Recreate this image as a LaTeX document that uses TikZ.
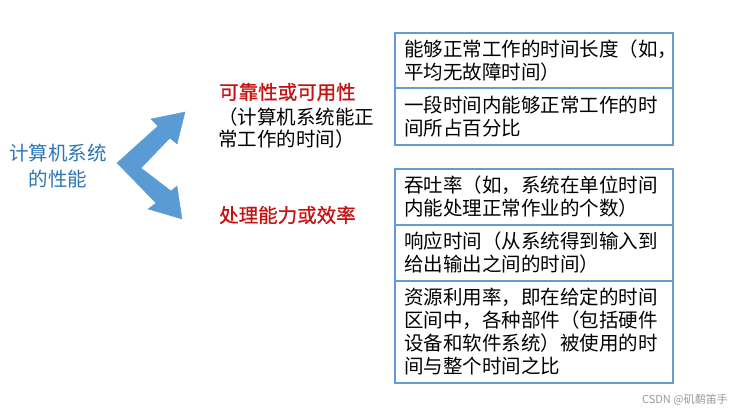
\documentclass[tikz,border=0pt]{standalone}
\usepackage{fontspec}
\setmainfont{Noto Sans CJK SC}
\newfontfamily\redfont[FakeBold=0.8]{Noto Sans CJK SC}
\usepackage{xcolor}
\usepackage{tikz}
\usetikzlibrary{positioning}

\definecolor{perfblue}{RGB}{46,117,182}
\definecolor{arrowblue}{RGB}{91,155,213}
\definecolor{labelred}{RGB}{200,16,16}
\definecolor{boxblue}{RGB}{100,155,210}

\begin{document}
\begin{tikzpicture}[x=1pt, y=-1pt, node distance=0pt,
    cell/.style={rectangle, draw=boxblue, line width=1.1pt, outer sep=0pt, inner xsep=9pt, inner ysep=0pt, text width=260pt, align=left, font=\fontsize{19.5}{23}\selectfont},
    title/.style={text=labelred, inner sep=0pt, anchor=west, font=\fontsize{19.5}{23}\redfont},
    desc/.style={text=black, inner sep=0pt, anchor=west, align=left, font=\fontsize{19.5}{22}\selectfont}
]
    \useasboundingbox (0,0) rectangle (738,414);

    % Left label
    \node [text=perfblue, inner sep=0pt, align=center, font=\fontsize{19.5}{26}\selectfont] (perf) at (58,166) {计算机系统\\的性能};

    % Bent double arrow
    \fill [arrowblue, draw=arrowblue, line join=miter] (117,163) -- (158,126) -- (151,119) -- (185,112) -- (177,144) -- (170,138) -- (141,168)
        -- (171,191) -- (177,186) -- (182,219) -- (148,209) -- (156,203) -- cycle;

    % Category labels
    \node [title] (reliab) at (219,92) {可靠性或可用性};
    \node [desc] (reliabdesc) at (218,128) {（计算机系统能正\\常工作的时间）};
    \node [title] (through) at (219,215) {处理能力或效率};

    % Reliability measures
    \node [cell, minimum height=55pt, anchor=north west] (mtbf) at (395,33) {能够正常工作的时间长度（如，\\平均无故障时间）};
    \node [cell, minimum height=57pt, below=of mtbf] (avail) {一段时间内能够正常工作的时\\间所占百分比};

    % Efficiency measures
    \node [cell, minimum height=56pt, anchor=north west] (thru) at (395,169) {吞吐率（如，系统在单位时间\\内能处理正常作业的个数）};
    \node [cell, minimum height=56pt, below=of thru] (resp) {响应时间（从系统得到输入到\\给出输出之间的时间）};
    \node [cell, minimum height=102pt, below=of resp] (util) {资源利用率，即在给定的时间\\区间中，各种部件（包括硬件\\设备和软件系统）被使用的时\\间与整个时间之比};

    \node [text=black!40, inner sep=0pt, anchor=east, font=\fontsize{11}{13}\selectfont] (wmark) at (728,400) {CSDN @矶鹬笛手};
\end{tikzpicture}
\end{document}
